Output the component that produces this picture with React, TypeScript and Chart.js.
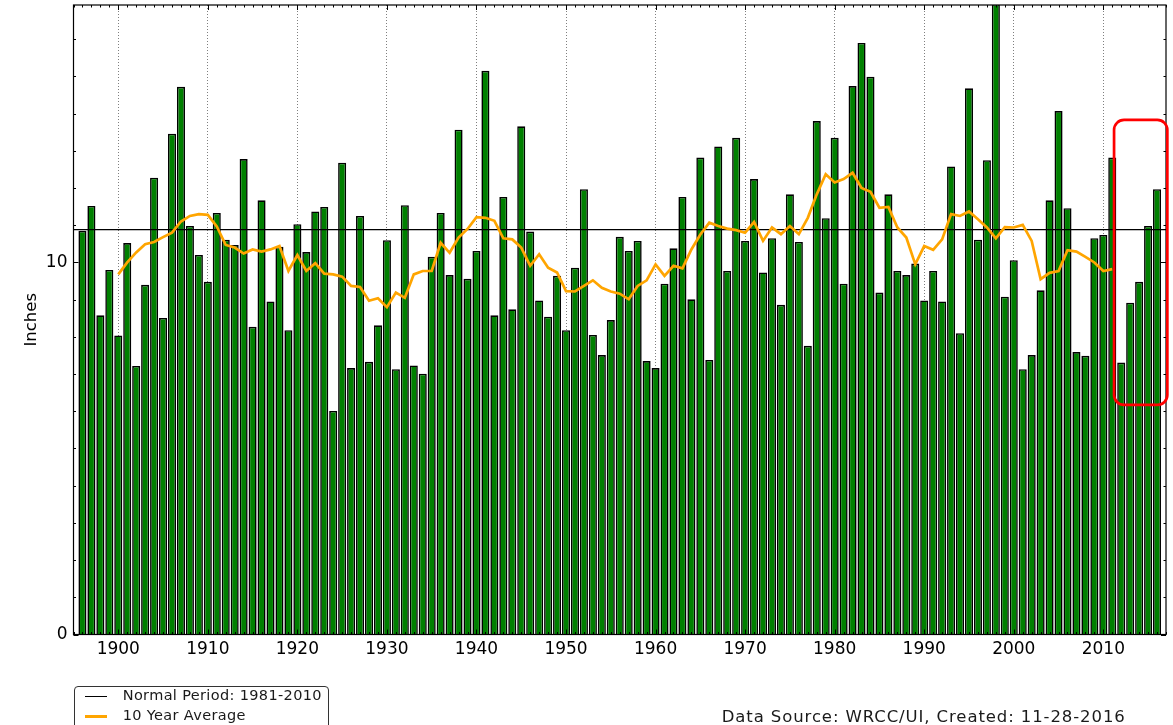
import React, { useEffect, useRef } from "react";
import { Chart, registerables } from "chart.js";

Chart.register(...registerables);

// ---------- DATA ----------
const firstYear = 1896;
const annualPrecip = [
  10.85, 11.52, 8.58, 9.8, 8.04, 10.52, 7.22, 9.4, 12.28, 8.51,
  13.46, 14.72, 10.98, 10.2, 9.48, 11.33, 10.61, 10.47, 12.78, 8.27,
  11.67, 8.95, 10.42, 8.18, 11.03, 10.28, 11.37, 11.49, 6.01, 12.68,
  7.16, 11.25, 7.33, 8.31, 10.6, 7.13, 11.54, 7.23, 7.01, 10.15,
  11.33, 9.66, 13.57, 9.56, 10.31, 15.15, 8.58, 11.76, 8.74, 13.66,
  10.83, 8.98, 8.54, 9.64, 8.18, 9.86, 11.97, 8.05, 7.51, 8.45,
  10.69, 10.31, 10.58, 7.35, 7.16, 9.43, 10.38, 11.76, 9.01, 12.82,
  7.38, 13.12, 9.77, 13.35, 10.58, 12.24, 9.73, 10.65, 8.86, 11.83,
  10.55, 7.76, 13.8, 11.19, 13.35, 9.43, 14.74, 15.9, 14.99, 9.19,
  11.83, 9.77, 9.66, 9.97, 8.98, 9.77, 8.95, 12.58, 8.1, 14.68,
  10.61, 12.75, 16.95, 9.08, 10.06, 7.13, 7.51, 9.25, 11.67, 14.07,
  11.46, 7.59, 7.49, 10.65, 10.74, 12.82, 7.31, 8.92, 9.48, 10.98,
  11.97,
];
const years = annualPrecip.map((_, i) => firstYear + i);

const avgFirstYear = 1900;
const tenYearAverage = [
  9.68, 10.0, 10.27, 10.49, 10.55, 10.68, 10.8, 11.1, 11.25, 11.3,
  11.28, 10.97, 10.47, 10.4, 10.24, 10.35, 10.29, 10.35, 10.44, 9.77,
  10.2, 9.77, 9.98, 9.7, 9.68, 9.62, 9.37, 9.34, 8.97, 9.04,
  8.8, 9.19, 9.05, 9.68, 9.77, 9.77, 10.53, 10.26, 10.67, 10.9,
  11.22, 11.2, 11.12, 10.65, 10.62, 10.4, 9.91, 10.22, 9.86, 9.73,
  9.23, 9.22, 9.37, 9.52, 9.32, 9.22, 9.16, 9.01, 9.37, 9.52,
  9.95, 9.64, 9.91, 9.84, 10.35, 10.75, 11.07, 10.98, 10.91, 10.87,
  10.8, 11.09, 10.58, 10.94, 10.76, 10.98, 10.76, 11.2, 11.83, 12.37,
  12.15, 12.24, 12.41, 12.0, 11.9, 11.47, 11.49, 10.94, 10.67, 9.95,
  10.44, 10.34, 10.62, 11.3, 11.25, 11.37, 11.16, 10.94, 10.65, 10.95,
  10.94, 11.01, 10.58, 9.55, 9.72, 9.77, 10.33, 10.29, 10.15, 10.0,
  9.77, 9.82,
];
const avgYears = tenYearAverage.map((_, i) => avgFirstYear + i);

const normalValue = 10.88;
const xRange = [1895, 2017];
const yRange = [0, 16.92];
const decadeTicks = [1900, 1910, 1920, 1930, 1940, 1950, 1960, 1970, 1980, 1990, 2000, 2010];
const yLabelTicks = [0, 10];
const yMinorTicks = [1, 2, 3, 4, 5, 6, 7, 8, 9, 11, 12, 13, 14, 15, 16];
const highlightYears = [2011.2, 2017.15];
const highlightInches = [6.17, 13.83];

const legendLabels = ["Normal Period: 1981-2010", "10 Year Average"];
const yTitle = "Inches";
const sourceNote = "Data Source: WRCC/UI, Created: 11-28-2016";

// ---------- STYLE ----------
const FONT = "'DejaVu Sans', 'Liberation Sans', sans-serif";
const BAR_GREEN = "#008000";
const AVG_ORANGE = "#FFA500";

const framePlugin = {
  id: "frameAndExtras",
  afterDraw(chart: any) {
    const { ctx, chartArea: a, scales } = chart;
    const x = scales.x;
    const y = scales.y;
    ctx.save();
    ctx.strokeStyle = "#000";
    ctx.lineWidth = 1;
    // inward year ticks top & bottom
    ctx.beginPath();
    for (let yr = Math.ceil(xRange[0]); yr <= Math.floor(xRange[1]); yr++) {
      const px = Math.round(x.getPixelForValue(yr)) + 0.5;
      const len = decadeTicks.includes(yr) ? 5 : 2.5;
      ctx.moveTo(px, a.bottom);
      ctx.lineTo(px, a.bottom - len);
      ctx.moveTo(px, a.top);
      ctx.lineTo(px, a.top + len);
    }
    // inward inch ticks left & right
    const allY = [...yLabelTicks.map((v) => [v, 5]), ...yMinorTicks.map((v) => [v, 2.5])];
    for (const [v, len] of allY) {
      const py = Math.round(y.getPixelForValue(v)) + 0.5;
      ctx.moveTo(a.left, py);
      ctx.lineTo(a.left + len, py);
      ctx.moveTo(a.right, py);
      ctx.lineTo(a.right - len, py);
    }
    ctx.stroke();
    // frame
    ctx.lineWidth = 1.2;
    ctx.strokeRect(a.left, a.top, a.right - a.left, a.bottom - a.top);
    // red highlight box
    const x0 = x.getPixelForValue(highlightYears[0]);
    const x1 = x.getPixelForValue(highlightYears[1]);
    const y0 = y.getPixelForValue(highlightInches[1]);
    const y1 = y.getPixelForValue(highlightInches[0]);
    ctx.strokeStyle = "#ff0000";
    ctx.lineWidth = 2.7;
    ctx.beginPath();
    if ((ctx as any).roundRect) {
      (ctx as any).roundRect(x0, y0, x1 - x0, y1 - y0, 10);
    } else {
      ctx.rect(x0, y0, x1 - x0, y1 - y0);
    }
    ctx.stroke();
    ctx.restore();
  },
};

export default function App() {
  const canvasRef = useRef<HTMLCanvasElement | null>(null);

  useEffect(() => {
    if (!canvasRef.current) return;
    Chart.defaults.font.family = FONT;
    Chart.defaults.color = "#000";
    const chart = new Chart(canvasRef.current, {
      type: "bar",
      data: {
        datasets: [
          {
            type: "line",
            label: legendLabels[1],
            data: avgYears.map((yr, i) => ({ x: yr, y: tenYearAverage[i] })),
            borderColor: AVG_ORANGE,
            borderWidth: 2.7,
            pointRadius: 0,
            tension: 0,
            order: 1,
          } as any,
          {
            type: "line",
            label: legendLabels[0],
            data: xRange.map((yr) => ({ x: yr, y: normalValue })),
            borderColor: "#000",
            borderWidth: 1.2,
            pointRadius: 0,
            order: 2,
          } as any,
          {
            type: "bar",
            label: "Annual",
            data: years.map((yr, i) => ({ x: yr, y: annualPrecip[i] })),
            backgroundColor: BAR_GREEN,
            borderColor: "#000",
            borderWidth: 1.6,
            borderSkipped: "start",
            barPercentage: 0.9,
            categoryPercentage: 1,
            order: 3,
          } as any,
        ],
      },
      options: {
        responsive: false,
        animation: false,
        layout: { padding: { left: 0, top: 5, right: 7, bottom: 50.5 } },
        plugins: {
          legend: { display: false },
          tooltip: { enabled: false },
        },
        scales: {
          x: {
            type: "linear",
            min: xRange[0],
            max: xRange[1],
            offset: false,
            z: 1,
            afterBuildTicks: (s: any) => {
              s.ticks = decadeTicks.map((v) => ({ value: v }));
            },
            afterFit: (s: any) => {
              s.height = 40;
              s.paddingLeft = 0;
              s.paddingRight = 0;
            },
            grid: {
              display: true,
              offset: false,
              drawOnChartArea: true,
              drawTicks: false,
              color: "rgba(0,0,0,0.5)",
              lineWidth: 1,
            },
            border: { display: false, dash: [1, 2] },
            ticks: {
              font: { size: 17, family: FONT },
              color: "#000",
              padding: 5,
              maxRotation: 0,
              autoSkip: false,
              callback: (v: any) => String(v),
            },
          },
          y: {
            min: yRange[0],
            max: yRange[1],
            afterBuildTicks: (s: any) => {
              s.ticks = yLabelTicks.map((v) => ({ value: v }));
            },
            afterFit: (s: any) => {
              s.width = 73.5;
              s.paddingTop = 0;
              s.paddingBottom = 0;
            },
            grid: { display: false, drawTicks: false },
            border: { display: false },
            ticks: {
              font: { size: 17, family: FONT },
              color: "#000",
              padding: 6,
              callback: (v: any) => String(v),
            },
            title: {
              display: true,
              text: yTitle,
              font: { size: 16.5, family: FONT },
              color: "#000",
              padding: { top: 22, bottom: 0 },
            },
          },
        },
      } as any,
      plugins: [framePlugin],
    });
    return () => chart.destroy();
  }, []);

  const textStyle: React.CSSProperties = {
    position: "absolute",
    fontFamily: FONT,
    lineHeight: 1,
    whiteSpace: "nowrap",
    color: "#1a1a1a",
  };

  return (
    <div
      style={{
        position: "absolute",
        left: 0,
        top: 0,
        width: 1173,
        height: 725,
        overflow: "hidden",
        background: "#fff",
      }}
    >
      <canvas ref={canvasRef} width={1173} height={725} style={{ display: "block" }} />
      <div
        style={{
          position: "absolute",
          left: 74,
          top: 686,
          width: 255,
          height: 60,
          border: "1.2px solid #333",
          borderRadius: 4,
          boxSizing: "border-box",
          background: "#fff",
        }}
      />
      <div style={{ position: "absolute", left: 85, top: 696, width: 22, height: 1.3, background: "#000" }} />
      <div style={{ ...textStyle, left: 122.7, top: 688.4, fontSize: 14.5, letterSpacing: "0.35px" }}>
        {legendLabels[0]}
      </div>
      <div style={{ position: "absolute", left: 85, top: 715.3, width: 22, height: 2.7, background: AVG_ORANGE }} />
      <div style={{ ...textStyle, left: 122.7, top: 708.4, fontSize: 14.5, letterSpacing: "0.35px" }}>
        {legendLabels[1]}
      </div>
      <div style={{ ...textStyle, left: 721.7, top: 709.3, fontSize: 16.5, letterSpacing: "0.9px" }}>
        {sourceNote}
      </div>
    </div>
  );
}
